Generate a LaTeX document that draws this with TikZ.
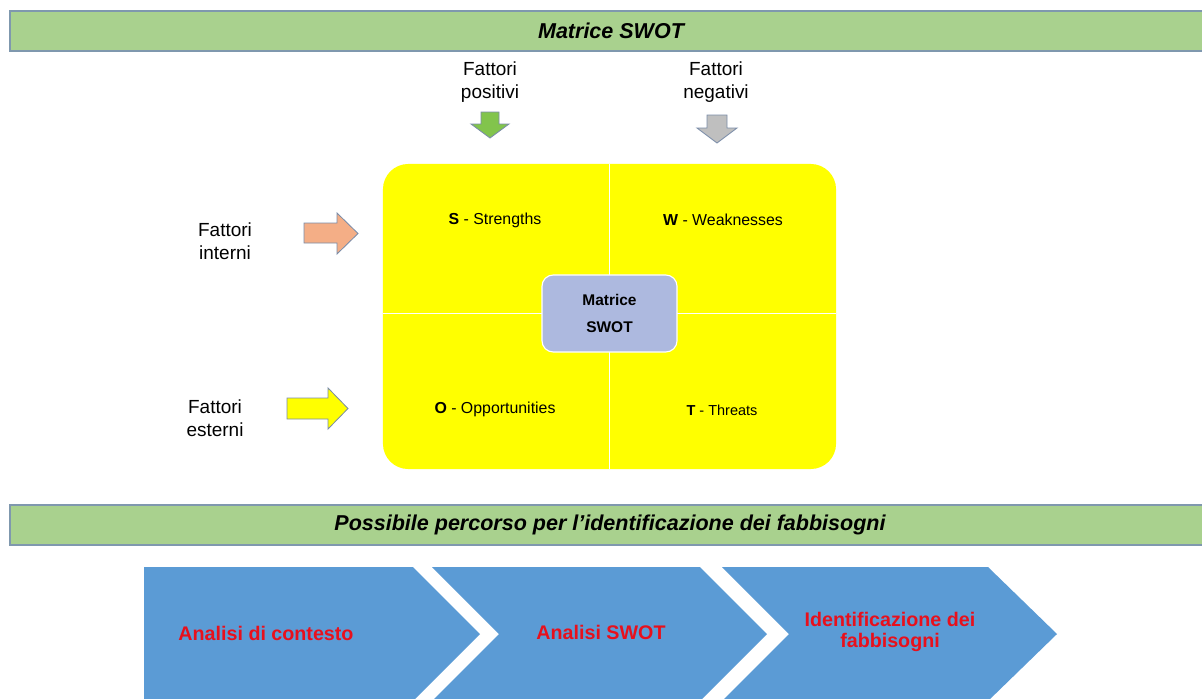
\documentclass[tikz,border=0pt]{standalone}
\usepackage{fontspec}
\setmainfont{Liberation Sans}
\usetikzlibrary{positioning}

\definecolor{bannergreen}{HTML}{A9D18E}
\definecolor{bannerline}{HTML}{7F98AE}
\definecolor{swotyellow}{HTML}{FFFF00}
\definecolor{centrebox}{HTML}{ADB9DF}
\definecolor{arrowgreen}{HTML}{82C44C}
\definecolor{arrowgray}{HTML}{BFBFBF}
\definecolor{arroworange}{HTML}{F4AE86}
\definecolor{arrowline}{HTML}{7A8CA8}
\definecolor{stepblue}{HTML}{5B9BD5}
\definecolor{stepred}{HTML}{E8101C}

\begin{document}
\begin{tikzpicture}[x=0.025cm, y=-0.025cm,
            banner/.style={draw=bannerline, fill=bannergreen, line width=0.8pt},
            bannertext/.style={font=\fontsize{15.3}{18}\selectfont\bfseries\itshape},
            factor/.style={align=center, font=\fontsize{13.5}{16.5}\selectfont},
            blockarrow/.style={draw=arrowline, line width=0.6pt},
            quadrant/.style={font=\fontsize{11.3}{13}\selectfont},
            chevron/.style={fill=stepblue},
            steptext/.style={text=stepred, align=center, font=\fontsize{14}{15}\selectfont\bfseries}
        ]

        \useasboundingbox (0,0) rectangle (1202,698);

        % Titolo: Matrice SWOT
        \draw[banner] (10,11) rectangle (1210,51);
        \node[bannertext] (title) at (611,31) {Matrice SWOT};

        % Fattori positivi / negativi
        \node[factor] (positivi) at (490,82) {Fattori\\positivi};
        \node[factor] (negativi) at (716,82) {Fattori\\negativi};
        \draw[blockarrow, fill=arrowgreen] (481,112) -- (499,112) -- (499,124) -- (509,124) -- (490,138) -- (471,124) -- (481,124) -- cycle;
        \draw[blockarrow, fill=arrowgray] (707,115) -- (727,115) -- (727,128) -- (737,128) -- (717,143) -- (697,128) -- (707,128) -- cycle;

        % Fattori interni / esterni
        \node[factor] (interni) at (225,241) {Fattori\\interni};
        \node[factor] (esterni) at (215,418) {Fattori\\esterni};
        \draw[blockarrow, fill=arroworange] (304,223) -- (337,223) -- (337,213) -- (358,233.5) -- (337,254) -- (337,243) -- (304,243) -- cycle;
        \draw[blockarrow, fill=swotyellow] (287,398) -- (328,398) -- (328,388) -- (348,408.5) -- (328,429) -- (328,419) -- (287,419) -- cycle;

        % Matrice
        \node[fill=swotyellow, rounded corners=18pt, minimum width=11.325cm, minimum height=7.625cm] (swot) at (609.5,316.5) {};
        \draw[white, line width=0.5pt] (swot.north) -- (swot.south);
        \draw[white, line width=0.5pt] (swot.west |- 0,313) -- (swot.east |- 0,313);

        \node[quadrant] (strengths) at (495,220) {\textbf{S} - Strengths};
        \node[quadrant] (weaknesses) at (723,220) {\textbf{W} - Weaknesses};
        \node[quadrant] (opportunities) at (495,409) {\textbf{O} - Opportunities};
        \node[quadrant, font=\fontsize{10.3}{12}\selectfont] (threats) at (722,410) {\textbf{T} - Threats};

        \node[draw=white, line width=0.8pt, fill=centrebox, rounded corners=8pt, minimum width=3.375cm, minimum height=1.925cm, align=center, font=\fontsize{11}{19}\selectfont\bfseries] (centre) at (609.5,313.5) {Matrice\\SWOT};

        % Percorso
        \draw[banner] (10,505) rectangle (1210,545);
        \node[bannertext] (percorso) at (610,525) {Possibile percorso per l’identificazione dei fabbisogni};

        \fill[chevron] (144,567) -- (413,567) -- (480,634) -- (413,701) -- (144,701) -- cycle;
        \fill[chevron] (432,567) -- (700,567) -- (767,634) -- (700,701) -- (432,701) -- (499,634) -- cycle;
        \fill[chevron] (722,567) -- (988,567) -- (1057,634) -- (988,701) -- (722,701) -- (789,634) -- cycle;

        \node[steptext] (contesto) at (266,633) {Analisi di contesto};
        \node[steptext] (analisiswot) at (601,632) {Analisi SWOT};
        \node[steptext] (fabbisogni) at (890,632) {Identificazione dei\\fabbisogni};

    \end{tikzpicture}
\end{document}
